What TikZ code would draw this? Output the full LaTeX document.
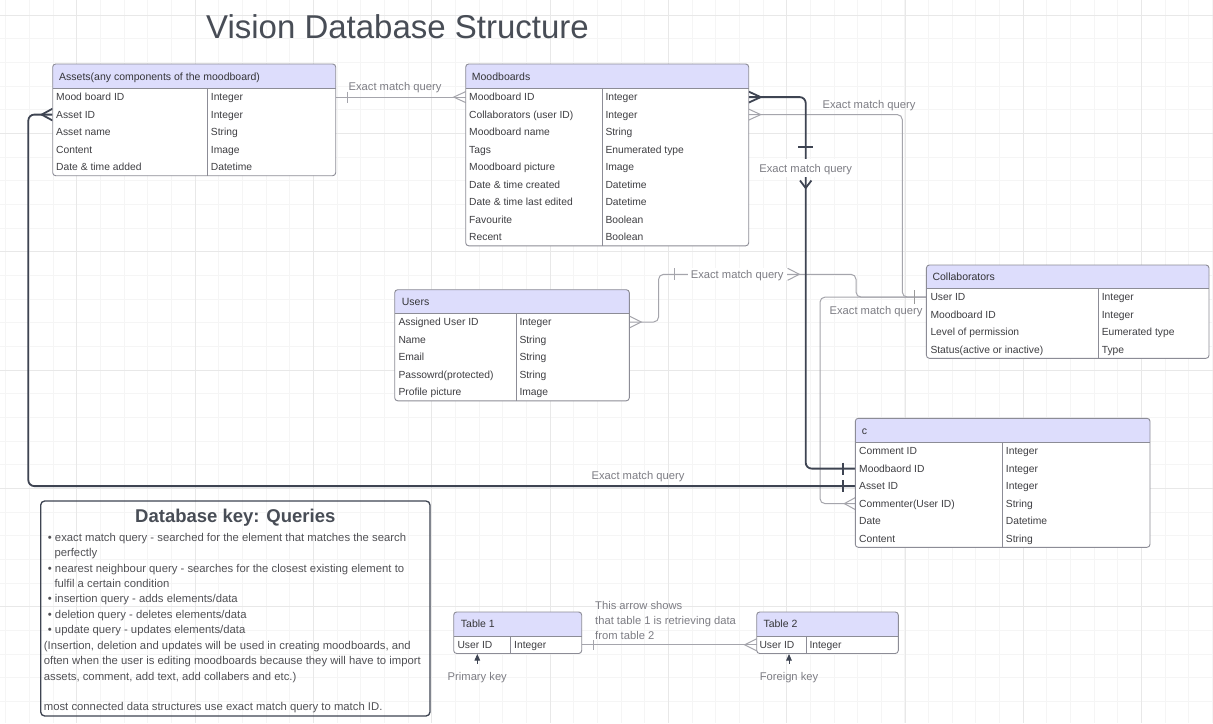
\documentclass[tikz,border=0pt]{standalone}
\usepackage{fontspec}
\setmainfont{Liberation Sans}
\usetikzlibrary{arrows.meta}

\definecolor{hdrfill}{RGB}{221,221,252}
\definecolor{tblline}{RGB}{140,140,150}
\definecolor{txtgray}{RGB}{62,62,66}
\definecolor{lblgray}{RGB}{125,125,132}
\definecolor{darkline}{RGB}{62,68,82}
\definecolor{lightline}{RGB}{165,165,172}
\definecolor{titlegray}{RGB}{72,77,86}
\definecolor{gridminor}{RGB}{245,245,245}
\definecolor{gridmajor}{RGB}{232,232,232}

\tikzset{
  tbl/.style={draw=tblline, line width=0.9pt, rounded corners=3pt},
  sep/.style={draw=tblline, line width=0.9pt},
  fld/.style={anchor=west, inner sep=0pt, text=txtgray, font=\fontsize{10.3}{12}\selectfont, text height=7.4pt, text depth=0pt},
  hdr/.style={fld, font=\fontsize{10.5}{12}\selectfont, text=txtgray!85!black},
  lbl/.style={inner sep=0pt, text=lblgray, font=\fontsize{11.2}{13}\selectfont, text height=8.1pt, text depth=0pt},
  keytxt/.style={fld, font=\fontsize{11.3}{13}\selectfont, text=txtgray!90, text height=8.1pt},
  dk/.style={draw=darkline, line width=1.8pt},
  lt/.style={draw=lightline, line width=1pt},
  keyarrow/.style={draw=darkline, line width=0.9pt, -{Triangle[length=6.5pt,width=5.5pt]}},
}

\begin{document}
\begin{tikzpicture}[x=1pt,y=-1pt]
  \useasboundingbox (0,0) rectangle (1213,723);
  \fill[white] (0,0) rectangle (1213,723);
  % grid
  \foreach \i in {0,...,51} \draw[gridminor, line width=0.6pt] ({5.7+23.66*\i},0) -- ++(0,723);
  \foreach \i in {0,...,29} \draw[gridminor, line width=0.6pt] (0,{15+23.66*\i}) -- ++(1213,0);
  \foreach \i in {0,...,9} \draw[gridmajor, line width=0.6pt] ({76.7+118.3*\i},0) -- ++(0,723);
  \foreach \i in {0,...,5} \draw[gridmajor, line width=0.6pt] (0,{15+118.3*\i}) -- ++(1213,0);

  \node[font=\fontsize{33}{36}\selectfont, text=titlegray, inner sep=0pt, text height=23.6pt, text depth=0pt] (title) at (397.5,26.7) {Vision Database Structure};

  % row ports
  \coordinate (as-1-e) at (335.7,97.1);
  \coordinate (as-2-w) at (52.7,114.6);
  \coordinate (mb-1-w) at (465.7,97.1);
  \coordinate (mb-1-e) at (748.7,97.1);
  \coordinate (mb-2-e) at (748.7,114.6);
  \coordinate (us-1-e) at (629.3,322);
  \coordinate (co-1-w) at (926.4,297.1);
  \coordinate (c-2-w) at (855.3,468.6);
  \coordinate (c-3-w) at (855.3,486.1);
  \coordinate (c-4-w) at (855.3,503.6);
  \coordinate (t1-1-e) at (581.7,644.8);
  \coordinate (t2-1-w) at (756.7,644.8);
  \coordinate (t1-key) at (477.3,654);
  \coordinate (t2-key) at (789,654);

  % Assets -- Moodboards
  \draw[lt] (as-1-e) -- (mb-1-w);
  \draw[lt] ([xshift=12pt,yshift=5.5pt]as-1-e) -- ([xshift=12pt,yshift=-5.5pt]as-1-e);
  \draw[lt] ([yshift=5.5pt]mb-1-w) -- ([xshift=-12pt]mb-1-w) -- ([yshift=-5.5pt]mb-1-w);
  \node[lbl] (l-asmb) at (395,86) {Exact match query};

  % Moodboards -- Collaborators
  \draw[lt, rounded corners=5pt] (mb-2-e) -- (902.3,114.6) |- (co-1-w);
  \draw[lt] ([yshift=5.5pt]mb-2-e) -- ([xshift=12pt]mb-2-e) -- ([yshift=-5.5pt]mb-2-e);
  \node[lbl] (l-mbco) at (869,104) {Exact match query};

  % Users -- Collaborators
  \draw[lt, rounded corners=5pt] (us-1-e) -- (658.6,322) |- (856,274.3) |- (co-1-w);
  \draw[lt] ([yshift=6pt]us-1-e) -- ([xshift=12pt]us-1-e) -- ([yshift=-6pt]us-1-e);
  \draw[lt] (674.3,268.3) -- (674.3,280.3);
  \node[lbl, fill=white, inner xsep=3pt, inner ysep=2pt] (l-usco) at (737.2,274.3) {Exact match query};
  \draw[lt] (787.6,268.3) -- (799.4,274.3) -- (787.6,280.3);

  % c -- Collaborators
  \draw[lt, rounded corners=5pt] (c-4-w) -- (820,503.6) |- (co-1-w);
  \draw[lt] ([yshift=6pt]c-4-w) -- ([xshift=-11pt]c-4-w) -- ([yshift=-6pt]c-4-w);
  \node[lbl] (l-cco) at (876,310) {Exact match query};
  \draw[draw=gray!80, line width=1pt] ([xshift=-12pt,yshift=7pt]co-1-w) -- ([xshift=-12pt,yshift=-7pt]co-1-w);

  % Table 1 -- Table 2
  \draw[lt] (t1-1-e) -- (t2-1-w);
  \draw[lt] ([xshift=11.6pt,yshift=4.7pt]t1-1-e) -- ([xshift=11.6pt,yshift=-4.7pt]t1-1-e);
  \draw[lt] ([yshift=6pt]t2-1-w) -- ([xshift=-12pt]t2-1-w) -- ([yshift=-6pt]t2-1-w);

  % Assets -- c
  \draw[dk, rounded corners=6pt] (as-2-w) -- (28.3,114.6) |- (c-3-w);
  \draw[dk] ([yshift=6pt]as-2-w) -- ([xshift=-11pt]as-2-w) -- ([yshift=-6pt]as-2-w);
  \draw[dk] ([xshift=-12pt,yshift=6pt]c-3-w) -- ([xshift=-12pt,yshift=-6pt]c-3-w);
  \node[lbl] (l-asc) at (638,475) {Exact match query};

  % Moodboards -- c
  \draw[dk, rounded corners=6pt] (mb-1-e) -- (805.7,97.1) |- (c-2-w);
  \draw[dk] ([yshift=5.5pt]mb-1-e) -- ([xshift=12pt]mb-1-e) -- ([yshift=-5.5pt]mb-1-e);
  \draw[dk] ([xshift=-12pt,yshift=6pt]c-2-w) -- ([xshift=-12pt,yshift=-6pt]c-2-w);
  \draw[dk] (798,146.7) -- (813.4,146.7);
  \node[lbl, fill=white, inner xsep=1pt, inner ysep=5pt] (l-mbc) at (805.7,168.3) {Exact match query};
  \draw[dk] (800,180.5) -- (805.7,188) -- (811.4,180.5);

  % Assets
  \fill[white, rounded corners=3pt] (52.7,64) rectangle (335.7,175.7);
  \fill[hdrfill, rounded corners=3pt] (52.7,64) rectangle (335.7,88.3);
  \fill[hdrfill] (52.7,80) rectangle (335.7,88.3);
  \draw[tbl] (52.7,64) rectangle (335.7,175.7);
  \draw[sep] (52.7,88.3) -- (335.7,88.3) (207.3,88.3) -- (207.3,175.7);
  \node[hdr] (as-h) at (59,76.3) {Assets(any components of the moodboard)};
  \node[fld] (as-f1) at (56,97.1) {Mood board ID};      \node[fld] (as-t1) at (210.7,97.1) {Integer};
  \node[fld] (as-f2) at (56,114.6) {Asset ID};          \node[fld] (as-t2) at (210.7,114.6) {Integer};
  \node[fld] (as-f3) at (56,132.1) {Asset name};        \node[fld] (as-t3) at (210.7,132.1) {String};
  \node[fld] (as-f4) at (56,149.6) {Content};           \node[fld] (as-t4) at (210.7,149.6) {Image};
  \node[fld] (as-f5) at (56,167.1) {Date \& time added}; \node[fld] (as-t5) at (210.7,167.1) {Datetime};

  % Moodboards
  \fill[white, rounded corners=3pt] (465.7,64) rectangle (748.7,245.8);
  \fill[hdrfill, rounded corners=3pt] (465.7,64) rectangle (748.7,88.3);
  \fill[hdrfill] (465.7,80) rectangle (748.7,88.3);
  \draw[tbl] (465.7,64) rectangle (748.7,245.8);
  \draw[sep] (465.7,88.3) -- (748.7,88.3) (602.7,88.3) -- (602.7,245.8);
  \node[hdr] (mb-h) at (471.7,76.3) {Moodboards};
  \node[fld] (mb-f1) at (469,97.1) {Moodboard ID};               \node[fld] (mb-t1) at (605.3,97.1) {Integer};
  \node[fld] (mb-f2) at (469,114.6) {Collaborators (user ID)};   \node[fld] (mb-t2) at (605.3,114.6) {Integer};
  \node[fld] (mb-f3) at (469,132.1) {Moodboard name};            \node[fld] (mb-t3) at (605.3,132.1) {String};
  \node[fld] (mb-f4) at (469,149.6) {Tags};                      \node[fld] (mb-t4) at (605.3,149.6) {Enumerated type};
  \node[fld] (mb-f5) at (469,167.1) {Moodboard picture};         \node[fld] (mb-t5) at (605.3,167.1) {Image};
  \node[fld] (mb-f6) at (469,184.6) {Date \& time created};      \node[fld] (mb-t6) at (605.3,184.6) {Datetime};
  \node[fld] (mb-f7) at (469,202.1) {Date \& time last edited};  \node[fld] (mb-t7) at (605.3,202.1) {Datetime};
  \node[fld] (mb-f8) at (469,219.6) {Favourite};                 \node[fld] (mb-t8) at (605.3,219.6) {Boolean};
  \node[fld] (mb-f9) at (469,237.1) {Recent};                    \node[fld] (mb-t9) at (605.3,237.1) {Boolean};

  % Users
  \fill[white, rounded corners=3pt] (394.7,289.7) rectangle (629.3,400.8);
  \fill[hdrfill, rounded corners=3pt] (394.7,289.7) rectangle (629.3,313.3);
  \fill[hdrfill] (394.7,305) rectangle (629.3,313.3);
  \draw[tbl] (394.7,289.7) rectangle (629.3,400.8);
  \draw[sep] (394.7,313.3) -- (629.3,313.3) (516.7,313.3) -- (516.7,400.8);
  \node[hdr] (us-h) at (401.7,302) {Users};
  \node[fld] (us-f1) at (398.3,322) {Assigned User ID};      \node[fld] (us-t1) at (519.3,322) {Integer};
  \node[fld] (us-f2) at (398.3,339.5) {Name};               \node[fld] (us-t2) at (519.3,339.5) {String};
  \node[fld] (us-f3) at (398.3,357) {Email};                \node[fld] (us-t3) at (519.3,357) {String};
  \node[fld] (us-f4) at (398.3,374.5) {Passowrd(protected)}; \node[fld] (us-t4) at (519.3,374.5) {String};
  \node[fld] (us-f5) at (398.3,392) {Profile picture};      \node[fld] (us-t5) at (519.3,392) {Image};

  % Collaborators
  \fill[white, rounded corners=3pt] (926.4,265) rectangle (1209,358.3);
  \fill[hdrfill, rounded corners=3pt] (926.4,265) rectangle (1209,288.3);
  \fill[hdrfill] (926.4,280) rectangle (1209,288.3);
  \draw[tbl] (926.4,265) rectangle (1209,358.3);
  \draw[sep] (926.4,288.3) -- (1209,288.3) (1098.4,288.3) -- (1098.4,358.3);
  \node[hdr] (co-h) at (932.3,277) {Collaborators};
  \node[fld] (co-f1) at (930.3,297.1) {User ID};                     \node[fld] (co-t1) at (1101.6,297.1) {Integer};
  \node[fld] (co-f2) at (930.3,314.6) {Moodboard ID};                \node[fld] (co-t2) at (1101.6,314.6) {Integer};
  \node[fld] (co-f3) at (930.3,332.1) {Level of permission};         \node[fld] (co-t3) at (1101.6,332.1) {Eumerated type};
  \node[fld] (co-f4) at (930.3,349.6) {Status(active or inactive)};  \node[fld] (co-t4) at (1101.6,349.6) {Type};

  % c
  \fill[white, rounded corners=3pt] (855.3,418.3) rectangle (1150,547.3);
  \fill[hdrfill, rounded corners=3pt] (855.3,418.3) rectangle (1150,442.3);
  \fill[hdrfill] (855.3,434) rectangle (1150,442.3);
  \draw[tbl] (855.3,418.3) rectangle (1150,547.3);
  \draw[sep] (855.3,442.3) -- (1150,442.3) (1002.3,442.3) -- (1002.3,547.3);
  \node[hdr] (c-h) at (861.7,430.3) {c};
  \node[fld] (c-f1) at (859,451.1) {Comment ID};          \node[fld] (c-t1) at (1005.7,451.1) {Integer};
  \node[fld] (c-f2) at (859,468.6) {Moodbaord ID};        \node[fld] (c-t2) at (1005.7,468.6) {Integer};
  \node[fld] (c-f3) at (859,486.1) {Asset ID};            \node[fld] (c-t3) at (1005.7,486.1) {Integer};
  \node[fld] (c-f4) at (859,503.6) {Commenter(User ID)};  \node[fld] (c-t4) at (1005.7,503.6) {String};
  \node[fld] (c-f5) at (859,521.1) {Date};                \node[fld] (c-t5) at (1005.7,521.1) {Datetime};
  \node[fld] (c-f6) at (859,538.6) {Content};             \node[fld] (c-t6) at (1005.7,538.6) {String};

  % Table 1 / Table 2
  \fill[white, rounded corners=3pt] (453.7,612) rectangle (581.7,653.5);
  \fill[hdrfill, rounded corners=3pt] (453.7,612) rectangle (581.7,636);
  \fill[hdrfill] (453.7,628) rectangle (581.7,636);
  \draw[tbl] (453.7,612) rectangle (581.7,653.5);
  \draw[sep] (453.7,636) -- (581.7,636) (510.7,636) -- (510.7,653.5);
  \node[hdr] (t1-h) at (460.7,624) {Table 1};
  \node[fld] (t1-f1) at (457.3,644.8) {User ID}; \node[fld] (t1-t1) at (514,644.8) {Integer};

  \fill[white, rounded corners=3pt] (756.7,612) rectangle (898.3,653.5);
  \fill[hdrfill, rounded corners=3pt] (756.7,612) rectangle (898.3,636);
  \fill[hdrfill] (756.7,628) rectangle (898.3,636);
  \draw[tbl] (756.7,612) rectangle (898.3,653.5);
  \draw[sep] (756.7,636) -- (898.3,636) (806.7,636) -- (806.7,653.5);
  \node[hdr] (t2-h) at (763.3,624) {Table 2};
  \node[fld] (t2-f1) at (759.3,644.8) {User ID}; \node[fld] (t2-t1) at (809.3,644.8) {Integer};

  \node[lbl, anchor=west] (t-note1) at (595,605.3) {This arrow shows};
  \node[lbl, anchor=west] (t-note2) at (595,620.5) {that table 1 is retrieving data};
  \node[lbl, anchor=west] (t-note3) at (595,635.7) {from table 2};
  \node[lbl] (pk) at (477.3,676) {Primary key};
  \node[lbl] (fk) at (789,676) {Foreign key};
  \draw[keyarrow] ([yshift=8pt]pk.north) -- (t1-key);
  \draw[keyarrow] ([yshift=8pt]fk.north) -- (t2-key);

  % key box
  \draw[draw=darkline, line width=1.3pt, rounded corners=4pt] (40.7,501) rectangle (430,716);
  \node[font=\bfseries\fontsize{18.5}{20}\selectfont, text=titlegray, inner sep=0pt, text height=13.3pt, text depth=0pt] (k-title) at (235.3,516) {Database key: Queries};
  \node[keytxt] (k-1) at (47.7,537.7) {• exact match query - searched for the element that matches the search};
  \node[keytxt] (k-2) at (54.3,552.9) {perfectly};
  \node[keytxt] (k-3) at (47.7,568.2) {• nearest neighbour query - searches for the closest existing element to};
  \node[keytxt] (k-4) at (54.3,583.4) {fulfil a certain condition};
  \node[keytxt] (k-5) at (47.7,598.8) {• insertion query - adds elements/data};
  \node[keytxt] (k-6) at (47.7,614.2) {• deletion query - deletes elements/data};
  \node[keytxt] (k-7) at (47.7,629.6) {• update query - updates elements/data};
  \node[keytxt] (k-8) at (43.7,645) {(Insertion, deletion and updates will be used in creating moodboards, and};
  \node[keytxt] (k-9) at (43.7,660.6) {often when the user is editing moodboards because they will have to import};
  \node[keytxt] (k-10) at (43.7,676) {assets, comment, add text, add collabers and etc.)};
  \node[keytxt] (k-11) at (43.7,706.7) {most connected data structures use exact match query to match ID.};
\end{tikzpicture}
\end{document}
